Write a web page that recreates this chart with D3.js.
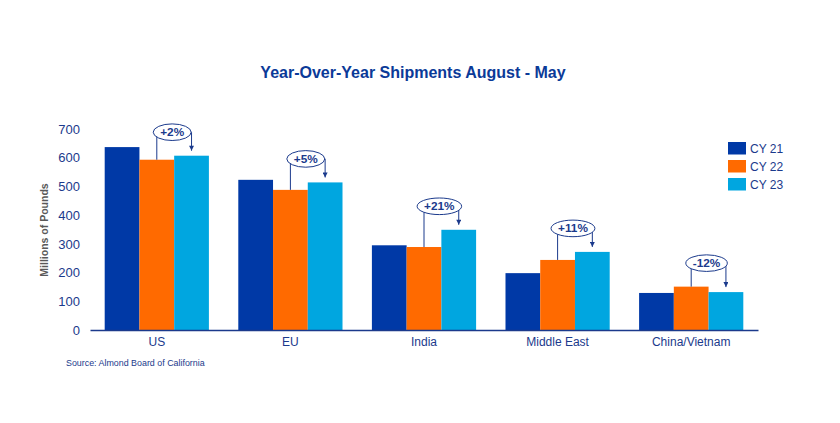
<!DOCTYPE html>
<html>
<head>
<meta charset="utf-8">
<script src="https://cdn.jsdelivr.net/npm/d3@7"></script>
<style>
  body { margin: 0; background: #fff; }
  text { font-family: Arial, "Liberation Sans", sans-serif; }
</style>
</head>
<body>
<div id="chart"></div>
<script>
const regions = ["US", "EU", "India", "Middle East", "China/Vietnam"];
const seriesNames = ["CY 21", "CY 22", "CY 23"];
const cy21 = [637, 523, 295, 198, 129];
const cy22 = [593, 488, 289, 244, 151];
const cy23 = [607, 514, 349, 272, 132];
const changes = ["+2%", "+5%", "+21%", "+11%", "-12%"];
const yTicks = [0, 100, 200, 300, 400, 500, 600, 700];

const colors = ["#0039a6", "#ff6a00", "#00a6e0"];
const ink = "#1b3a8c";

const rows = regions.map((r, i) => ({ region: r, values: [cy21[i], cy22[i], cy23[i]], change: changes[i] }));

const svg = d3.select("#chart").append("svg")
  .attr("width", 840)
  .attr("height", 423);

svg.append("defs").append("marker")
  .attr("id", "arrow")
  .attr("viewBox", "0 0 10 10")
  .attr("refX", 5).attr("refY", 10)
  .attr("markerWidth", 5).attr("markerHeight", 6)
  .attr("markerUnits", "userSpaceOnUse")
  .attr("orient", "0")
  .append("path").attr("d", "M0,0 L10,0 L5,10 Z").attr("fill", ink);

const x0 = d3.scaleBand().domain(regions).range([90, 758]).paddingInner(0.22).paddingOuter(0.11);
const x1 = d3.scaleBand().domain([0, 1, 2]).range([0, x0.bandwidth()]);
const y = d3.scaleLinear().domain([0, 700]).range([330, 129]);

// title
svg.append("text")
  .attr("x", 413).attr("y", 78)
  .attr("text-anchor", "middle")
  .attr("font-size", 16).attr("font-weight", "bold")
  .attr("fill", "#0b3a98")
  .text("Year-Over-Year Shipments August - May");

// y axis labels
const yAxis = svg.append("g").attr("transform", "translate(80,0)")
  .call(d3.axisLeft(y).tickValues(yTicks).tickSize(0).tickPadding(0));
yAxis.select(".domain").remove();
yAxis.selectAll("text").attr("font-size", 13).attr("fill", ink).attr("font-family", "Arial, 'Liberation Sans', sans-serif");

svg.append("text")
  .attr("transform", "translate(48,230) rotate(-90)")
  .attr("text-anchor", "middle")
  .attr("font-size", 10.5).attr("font-weight", "bold")
  .attr("fill", "#595959")
  .text("Millions of Pounds");

// bars
const groups = svg.append("g").selectAll("g").data(rows).join("g")
  .attr("transform", d => `translate(${x0(d.region)},0)`);

groups.selectAll("rect").data(d => d.values).join("rect")
  .attr("x", (v, i) => x1(i))
  .attr("width", x1.bandwidth())
  .attr("y", v => y(v))
  .attr("height", v => y(0) - y(v))
  .attr("fill", (v, i) => colors[i]);

// x axis
const xAxis = svg.append("g").attr("transform", "translate(0,330)")
  .call(d3.axisBottom(x0).tickSize(0).tickPadding(7));
xAxis.select(".domain").attr("stroke", ink).attr("stroke-width", 1.3);
xAxis.selectAll("text").attr("font-size", 12).attr("fill", ink).attr("font-family", "Arial, 'Liberation Sans', sans-serif");

// change callouts
const notes = groups.append("g");
notes.each(function(d) {
  const g = d3.select(this);
  const xa = x1(1) + x1.bandwidth() / 2;
  const xb = x1(2) + x1.bandwidth() / 2;
  const topA = y(d.values[1]);
  const topB = y(d.values[2]);
  const cy = Math.min(topA, topB) - 23.5;
  const cx = (xa + xb) / 2 - 2;
  g.append("path")
    .attr("d", `M${xa},${topA} V${cy} H${xb} V${topB - 5}`)
    .attr("fill", "none")
    .attr("stroke", ink)
    .attr("stroke-width", 1)
    .attr("marker-end", "url(#arrow)");
  const label = g.append("text")
    .attr("x", cx).attr("y", cy + 4)
    .attr("text-anchor", "middle")
    .attr("font-size", 11.8).attr("font-weight", "bold")
    .attr("fill", ink)
    .text(d.change);
  const w = label.node().getComputedTextLength();
  g.insert("ellipse", "text")
    .attr("cx", cx).attr("cy", cy)
    .attr("rx", Math.max(w / 2 + 7, (xb - xa) / 2 - 2)).attr("ry", 8.3)
    .attr("fill", "#fff")
    .attr("stroke", ink)
    .attr("stroke-width", 1);
});

// legend
const legend = svg.append("g").attr("transform", "translate(728,142)");
const items = legend.selectAll("g").data(seriesNames).join("g")
  .attr("transform", (d, i) => `translate(0,${i * 18})`);
items.append("rect").attr("width", 18).attr("height", 12.5).attr("fill", (d, i) => colors[i]);
items.append("text").attr("x", 22).attr("y", 11).attr("font-size", 12).attr("fill", ink).text(d => d);

// source
svg.append("text")
  .attr("x", 66).attr("y", 366)
  .attr("font-size", 8.9)
  .attr("fill", ink)
  .text("Source: Almond Board of California");
</script>
</body>
</html>
